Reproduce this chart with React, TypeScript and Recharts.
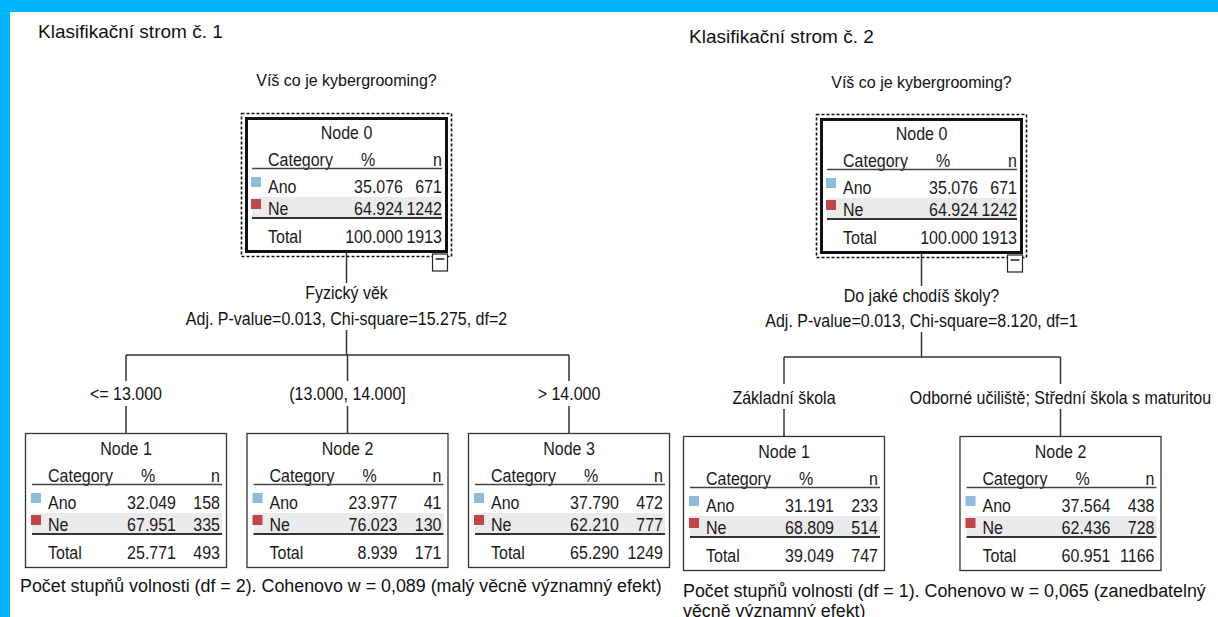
import React from "react";
import { ScatterChart, Scatter, XAxis, YAxis, ReferenceLine } from "recharts";

// ---------- data ----------
const categories = ["Ano", "Ne"];
const tableHeader = ["Category", "%", "n"];
const totalLabel = "Total";

const chartTitles = ["Klasifikační strom č. 1", "Klasifikační strom č. 2"];
const targetQuestion = "Víš co je kybergrooming?";

const tree1NodeNames = ["Node 0", "Node 1", "Node 2", "Node 3"];
const tree1AnoPct = [35.076, 32.049, 23.977, 37.79];
const tree1AnoN = [671, 158, 41, 472];
const tree1NePct = [64.924, 67.951, 76.023, 62.21];
const tree1NeN = [1242, 335, 130, 777];
const tree1TotalPct = [100.0, 25.771, 8.939, 65.29];
const tree1TotalN = [1913, 493, 171, 1249];
const tree1SplitVar = "Fyzický věk";
const tree1SplitStats = "Adj. P-value=0.013, Chi-square=15.275, df=2";
const tree1SplitLabels = ["<= 13.000", "(13.000, 14.000]", "> 14.000"];
const tree1Note = ["Počet stupňů volnosti (df = 2). Cohenovo w = 0,089 (malý věcně významný efekt)"];

const tree2NodeNames = ["Node 0", "Node 1", "Node 2"];
const tree2AnoPct = [35.076, 31.191, 37.564];
const tree2AnoN = [671, 233, 438];
const tree2NePct = [64.924, 68.809, 62.436];
const tree2NeN = [1242, 514, 728];
const tree2TotalPct = [100.0, 39.049, 60.951];
const tree2TotalN = [1913, 747, 1166];
const tree2SplitVar = "Do jaké chodíš školy?";
const tree2SplitStats = "Adj. P-value=0.013, Chi-square=8.120, df=1";
const tree2SplitLabels = ["Základní škola", "Odborné učiliště; Střední škola s maturitou"];
const tree2Note = [
  "Počet stupňů volnosti (df = 1). Cohenovo w = 0,065 (zanedbatelný",
  "věcně významný efekt)",
];

// ---------- layout (positions in chart units) ----------
const W = 1218;
const H = 617;
const FONT = "'Liberation Sans', Arial, sans-serif";
const BLUE_SWATCH = "#8fbcda";
const RED_SWATCH = "#c2454c";
const LINE = "#333";
const NODE_FS = 18.5;
const NODE_SX = 0.865;

const L1 = {
  titleX: 38, titleY: 38,
  questionY: 86,
  rootCx: 346.5, rootTop: 117,
  splitVarY: 299, splitStatsY: 325,
  lineTopEnd: 283, lineStatsBottom: 330,
  barY: 355,
  labelY: 400, labelTop: 381, labelBottom: 406,
  childCx: [126, 347.5, 569], childTop: 433,
  noteX: 20, noteY: 592,
};
const L2 = {
  titleX: 689, titleY: 43,
  questionY: 88,
  rootCx: 921.5, rootTop: 118,
  splitVarY: 302, splitStatsY: 327,
  lineTopEnd: 286, lineStatsBottom: 332,
  barY: 357,
  labelY: 404, labelTop: 384, labelBottom: 409,
  childCx: [784, 1060.5], childTop: 436,
  noteX: 683, noteY: 597,
};
const ROOT_H = 136;

function buildNodes(L, names, aP, aN, nP, nN, tP, tN) {
  return names.map((name, i) => ({
    x: i === 0 ? L.rootCx : L.childCx[i - 1],
    y: i === 0 ? L.rootTop : L.childTop,
    root: i === 0,
    name,
    rows: [
      { cat: categories[0], pct: aP[i], n: aN[i], color: BLUE_SWATCH },
      { cat: categories[1], pct: nP[i], n: nN[i], color: RED_SWATCH },
    ],
    totalPct: tP[i],
    totalN: tN[i],
  }));
}

const nodes = [
  ...buildNodes(L1, tree1NodeNames, tree1AnoPct, tree1AnoN, tree1NePct, tree1NeN, tree1TotalPct, tree1TotalN),
  ...buildNodes(L2, tree2NodeNames, tree2AnoPct, tree2AnoN, tree2NePct, tree2NeN, tree2TotalPct, tree2TotalN),
];

function buildTexts(L, title, splitVar, splitStats, labels, note) {
  const t = [];
  t.push({ x: L.titleX, y: L.titleY, text: title, size: 19, sx: 1, anchor: "start" });
  t.push({ x: L.rootCx, y: L.questionY, text: targetQuestion, size: 16, sx: 1, anchor: "middle" });
  t.push({ x: L.rootCx, y: L.splitVarY, text: splitVar, size: NODE_FS, sx: NODE_SX, anchor: "middle" });
  t.push({ x: L.rootCx, y: L.splitStatsY, text: splitStats, size: NODE_FS, sx: NODE_SX, anchor: "middle" });
  labels.forEach((lab, i) =>
    t.push({ x: L.childCx[i], y: L.labelY, text: lab, size: NODE_FS, sx: NODE_SX, anchor: "middle" })
  );
  note.forEach((line, i) =>
    t.push({ x: L.noteX, y: L.noteY + i * 20, text: line, size: 19, sx: 0.94, anchor: "start" })
  );
  return t;
}

const texts = [
  ...buildTexts(L1, chartTitles[0], tree1SplitVar, tree1SplitStats, tree1SplitLabels, tree1Note),
  ...buildTexts(L2, chartTitles[1], tree2SplitVar, tree2SplitStats, tree2SplitLabels, tree2Note),
];

function buildSegments(L) {
  const s = [];
  const rootBottom = L.rootTop + ROOT_H;
  s.push([{ x: L.rootCx, y: rootBottom }, { x: L.rootCx, y: L.lineTopEnd }]);
  s.push([{ x: L.rootCx, y: L.lineStatsBottom }, { x: L.rootCx, y: L.barY }]);
  s.push([{ x: L.childCx[0], y: L.barY }, { x: L.childCx[L.childCx.length - 1], y: L.barY }]);
  L.childCx.forEach((cx) => {
    s.push([{ x: cx, y: L.barY }, { x: cx, y: L.labelTop }]);
    s.push([{ x: cx, y: L.labelBottom }, { x: cx, y: L.childTop }]);
  });
  return s;
}
const segments = [...buildSegments(L1), ...buildSegments(L2)];

// ---------- shapes ----------
function CText({ x, y, anchor = "start", size = NODE_FS, sx = NODE_SX, fill = "#1a1a1a", children }) {
  return (
    <text
      transform={`translate(${x},${y}) scale(${sx},1)`}
      x={0}
      y={0}
      textAnchor={anchor}
      fontFamily={FONT}
      fontSize={size}
      fill={fill}
    >
      {children}
    </text>
  );
}

function NodeShape(props) {
  const { cx, cy, payload } = props;
  if (cx == null || cy == null || !payload) return null;
  const root = payload.root;
  const w = root ? 203 : 202;
  const h = root ? ROOT_H : 135;
  const left = cx - w / 2;
  const top = cy;
  const pctRight = root ? 158 : 151;
  const nRight = root ? 197 : 195;
  return (
    <g>
      {root && (
        <rect x={left - 3.5} y={top - 3.5} width={w + 7} height={h + 7} fill="none" stroke="#111" strokeWidth={1.6} strokeDasharray="3 2" />
      )}
      <rect x={left} y={top} width={w} height={h} fill="#fff" stroke="none" />
      <rect x={left + 7} y={top + 80} width={190} height={20} fill="#ebebeb" />
      <CText x={left + w / 2} y={top + 22} anchor="middle">{payload.name}</CText>
      <CText x={left + 23} y={top + 49}>{tableHeader[0]}</CText>
      <CText x={left + 123} y={top + 49} anchor="middle">{tableHeader[1]}</CText>
      <CText x={left + nRight} y={top + 49} anchor="end">{tableHeader[2]}</CText>
      <line x1={left + 7} x2={left + 197} y1={top + 51.5} y2={top + 51.5} stroke="#444" strokeWidth={1.5} />
      {payload.rows.map((r, i) => {
        const base = top + 76 + i * 22;
        return (
          <g key={r.cat}>
            <rect x={left + 6} y={base - 16} width={10} height={10} fill={r.color} />
            <CText x={left + 23} y={base}>{r.cat}</CText>
            <CText x={left + pctRight} y={base} anchor="end">{r.pct.toFixed(3)}</CText>
            <CText x={left + nRight} y={base} anchor="end">{r.n}</CText>
          </g>
        );
      })}
      <line x1={left + 7} x2={left + 197} y1={top + 101} y2={top + 101} stroke="#333" strokeWidth={2} />
      <CText x={left + 23} y={top + 126}>{totalLabel}</CText>
      <CText x={left + pctRight} y={top + 126} anchor="end">{payload.totalPct.toFixed(3)}</CText>
      <CText x={left + nRight} y={top + 126} anchor="end">{payload.totalN}</CText>
      {root ? (
        <>
          <rect x={left + 1.5} y={top + 1.5} width={w - 3} height={h - 3} fill="none" stroke="#111" strokeWidth={3} />
          <rect x={left + w - 15.5} y={top + h + 1} width={15} height={17} fill="#fff" stroke="#222" strokeWidth={1.2} />
          <line x1={left + w - 12.5} x2={left + w - 3.5} y1={top + h + 6} y2={top + h + 6} stroke="#222" strokeWidth={1.5} />
        </>
      ) : (
        <rect x={left + 0.5} y={top + 0.5} width={w - 1} height={h - 1} fill="none" stroke="#333" strokeWidth={1.3} />
      )}
    </g>
  );
}

function TextShape(props) {
  const { cx, cy, payload } = props;
  if (cx == null || cy == null || !payload) return null;
  return (
    <CText x={cx} y={cy} anchor={payload.anchor} size={payload.size} sx={payload.sx} fill="#111">
      {payload.text}
    </CText>
  );
}

export default function App() {
  return (
    <div style={{ position: "relative", width: W, height: H, background: "#fff", overflow: "hidden" }}>
      <style>{"body{margin:0}"}</style>
      <ScatterChart width={W} height={H} margin={{ top: 0, right: 0, bottom: 0, left: 0 }}>
        <XAxis type="number" dataKey="x" domain={[0, W]} allowDataOverflow hide />
        <YAxis type="number" dataKey="y" domain={[0, H]} allowDataOverflow reversed hide />
        {segments.map((seg, i) => (
          <ReferenceLine key={i} segment={seg} stroke={LINE} strokeWidth={1.5} ifOverflow="visible" />
        ))}
        <Scatter data={nodes} shape={NodeShape} isAnimationActive={false} />
        <Scatter data={texts} shape={TextShape} isAnimationActive={false} />
      </ScatterChart>
      <div style={{ position: "absolute", left: 0, top: 0, width: W, height: 12, background: "#00b6ff" }} />
      <div style={{ position: "absolute", left: 0, top: 0, width: 10, height: H, background: "#00b6ff" }} />
    </div>
  );
}
